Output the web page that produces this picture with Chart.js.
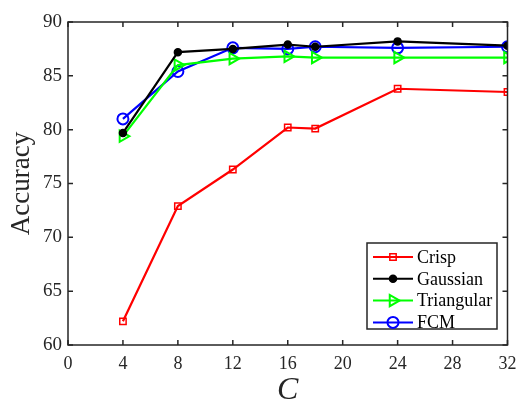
<!DOCTYPE html>
<html>
<head>
<meta charset="utf-8">
<script src="https://cdn.jsdelivr.net/npm/chart.js@4.4.0/dist/chart.umd.min.js"></script>
<style>
  html, body { margin: 0; padding: 0; background: #fff; }
  #wrap { width: 516px; height: 405px; }
</style>
</head>
<body>
<div id="wrap"><canvas id="accChart" width="516" height="405"></canvas></div>
<script>
// cluster counts C
const cValues = [4, 8, 12, 16, 18, 24, 32];

// accuracy per membership type
const crisp      = [62.2, 72.9, 76.3, 80.2, 80.1, 83.8, 83.5];
const gaussian   = [79.7, 87.2, 87.5, 87.9, 87.7, 88.2, 87.8];
const triangular = [79.4, 86.0, 86.6, 86.8, 86.7, 86.7, 86.7];
const fcm        = [81.0, 85.4, 87.6, 87.5, 87.7, 87.6, 87.7];

const xTicks = [0, 4, 8, 12, 16, 20, 24, 28, 32];
const yTicks = [60, 65, 70, 75, 80, 85, 90];

const axisColor = '#262626';
const serif = '"Liberation Serif", "Times New Roman", serif';

function toPoints(vals) {
    return cValues.map((c, i) => ({ x: c, y: vals[i] }));
}

// box around the plot + inward ticks on all four sides, MATLAB style
const boxPlugin = {
    id: 'boxPlugin',
    afterDatasetsDraw(chart) {
        const ctx = chart.ctx;
        const a = chart.chartArea;
        const xs = chart.scales.x, ys = chart.scales.y;
        const len = 5;
        ctx.save();
        ctx.strokeStyle = axisColor;
        ctx.lineWidth = 1.5;
        ctx.strokeRect(a.left, a.top, a.right - a.left, a.bottom - a.top);
        ctx.beginPath();
        xTicks.forEach(t => {
            const px = xs.getPixelForValue(t);
            ctx.moveTo(px, a.bottom); ctx.lineTo(px, a.bottom - len);
            ctx.moveTo(px, a.top); ctx.lineTo(px, a.top + len);
        });
        yTicks.forEach(t => {
            const py = ys.getPixelForValue(t);
            ctx.moveTo(a.left, py); ctx.lineTo(a.left + len, py);
            ctx.moveTo(a.right, py); ctx.lineTo(a.right - len, py);
        });
        ctx.stroke();
        ctx.restore();
    }
};

// legend box inside the lower right corner
const legendPlugin = {
    id: 'insideLegend',
    afterDraw(chart) {
        const ctx = chart.ctx;
        const w = 130, h = 86;
        const x0 = 367, y0 = 243;
        ctx.save();
        ctx.fillStyle = '#fff';
        ctx.fillRect(x0, y0, w, h);
        ctx.strokeStyle = axisColor;
        ctx.lineWidth = 1.5;
        ctx.strokeRect(x0, y0, w, h);
        ctx.font = '18px ' + serif;
        ctx.textBaseline = 'middle';
        chart.data.datasets.forEach((ds, i) => {
            const cy = y0 + 14 + i * 21.8;
            ctx.strokeStyle = ds.borderColor;
            ctx.lineWidth = 2;
            ctx.beginPath();
            ctx.moveTo(x0 + 6, cy); ctx.lineTo(x0 + 46, cy);
            ctx.stroke();
            ctx.fillStyle = ds.pointBackgroundColor;
            ctx.lineWidth = ds.pointBorderWidth;
            Chart.helpers.drawPoint(ctx, {
                pointStyle: ds.pointStyle,
                radius: ds.pointRadius,
                rotation: ds.pointRotation || 0,
                borderWidth: ds.pointBorderWidth
            }, x0 + 26, cy);
            ctx.fillStyle = '#000';
            ctx.fillText(ds.label, x0 + 50, cy + 1);
        });
        ctx.restore();
    }
};

function series(label, data, color, style, opts) {
    return Object.assign({
        label: label,
        data: toPoints(data),
        borderColor: color,
        backgroundColor: color,
        borderWidth: 2.2,
        pointStyle: style,
        pointRadius: 4,
        pointBorderWidth: 1.5,
        pointBorderColor: color,
        pointBackgroundColor: 'rgba(0,0,0,0)',
        tension: 0
    }, opts || {});
}

const ctx = document.getElementById('accChart').getContext('2d');
new Chart(ctx, {
    type: 'line',
    data: {
        datasets: [
            series('Crisp', crisp, '#ff0000', 'rect', { pointRadius: 4.5 }),
            series('Gaussian', gaussian, '#000000', 'circle', { pointRadius: 3.5, pointBackgroundColor: '#000000' }),
            series('Triangular', triangular, '#00ff00', 'triangle', { pointRadius: 6.5, pointRotation: 90, pointBorderWidth: 2 }),
            series('FCM', fcm, '#0000ff', 'circle', { pointRadius: 5.5, pointBorderWidth: 2 })
        ]
    },
    options: {
        responsive: false,
        animation: false,
        layout: { padding: { top: 22, right: 4, left: 0, bottom: 0 } },
        plugins: {
            legend: { display: false },
            tooltip: { enabled: false }
        },
        scales: {
            x: {
                type: 'linear',
                min: 0,
                max: 32,
                afterBuildTicks(scale) { scale.ticks = xTicks.map(v => ({ value: v })); },
                afterFit(scale) { scale.height = 60; scale.paddingLeft = 0; scale.paddingRight = 0; },
                grid: { display: false, drawTicks: false },
                border: { display: false },
                ticks: { color: '#262626', padding: 8, font: { family: serif, size: 18 } },
                title: {
                    display: true,
                    text: 'C',
                    color: '#262626',
                    padding: { top: 4, bottom: 0 },
                    font: { family: serif, size: 32, style: 'italic', lineHeight: 0.9 }
                }
            },
            y: {
                min: 60,
                max: 90,
                afterBuildTicks(scale) { scale.ticks = yTicks.map(v => ({ value: v })); },
                afterFit(scale) { scale.width = 68; scale.paddingTop = 0; scale.paddingBottom = 0; },
                grid: { display: false, drawTicks: false },
                border: { display: false },
                ticks: { color: '#262626', padding: 6, font: { family: serif, size: 19 } },
                title: {
                    display: true,
                    text: 'Accuracy',
                    color: '#262626',
                    padding: { top: 6, bottom: 0 },
                    font: { family: serif, size: 27 }
                }
            }
        }
    },
    plugins: [boxPlugin, legendPlugin]
});
</script>
</body>
</html>
